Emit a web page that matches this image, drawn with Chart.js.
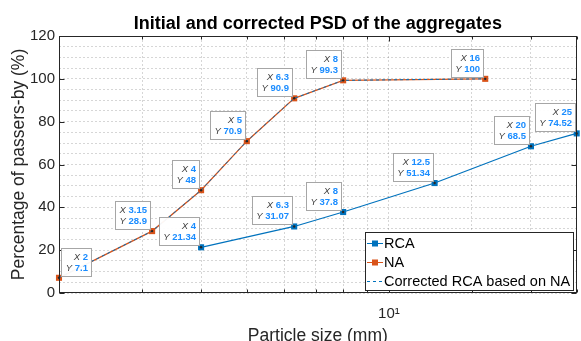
<!DOCTYPE html>
<html>
<head>
<meta charset="utf-8">
<script src="https://cdn.jsdelivr.net/npm/chart.js@4.4.1/dist/chart.umd.min.js"></script>
<style>
  html, body { margin: 0; padding: 0; background: #fff; }
  #wrap { width: 581px; height: 341px; position: relative; }
</style>
</head>
<body>
<div id="wrap"><canvas id="psdChart"></canvas></div>
<script>
// --- data ---
const rcaSize = [4, 6.3, 8, 12.5, 20, 25];
const rcaPass = [21.34, 31.07, 37.8, 51.34, 68.5, 74.52];
const naSize = [2, 3.15, 4, 5, 6.3, 8, 16];
const naPass = [7.1, 28.9, 48, 70.9, 90.9, 99.3, 100];
const corrSize = [2, 3.15, 4, 5, 6.3, 8, 16];
const corrPass = [7.1, 28.9, 48, 70.9, 90.9, 99.3, 100];
const yTickLabels = [0, 20, 40, 60, 80, 100, 120];
const xTickLabels = [10];

const FONT = "'Liberation Sans', Arial, Helvetica, sans-serif";
const AXIS = '#262626';
const BLUE = '#0072BD';
const ORANGE = '#D95319';
const TIP_BLUE = '#1A8CFF';

const toXY = (xs, ys) => xs.map((v, i) => ({ x: v, y: ys[i] }));

// box round the axes with inward ticks (MATLAB style)
const frame = {
    id: 'frame',
    afterDatasetsDraw(chart) {
        const { ctx, chartArea: a, scales: { x, y } } = chart;
        const L = Math.round(a.left) + 0.5, R = Math.round(a.right) - 0.5;
        const T = Math.round(a.top) + 0.5, B = Math.round(a.bottom) - 0.5;
        ctx.save();
        ctx.strokeStyle = AXIS;
        ctx.lineWidth = 1;
        ctx.beginPath();
        yTickLabels.forEach(v => {
            const py = Math.round(y.getPixelForValue(v)) + 0.5;
            ctx.moveTo(L, py); ctx.lineTo(L + 5, py);
            ctx.moveTo(R, py); ctx.lineTo(R - 5, py);
        });
        x.ticks.forEach(t => {
            const px = Math.round(x.getPixelForValue(t.value)) + 0.5;
            const len = xTickLabels.includes(t.value) ? 5 : 3;
            ctx.moveTo(px, B); ctx.lineTo(px, B - len);
            ctx.moveTo(px, T); ctx.lineTo(px, T + len);
        });
        ctx.stroke();
        ctx.strokeRect(L, T, R - L, B - T);
        ctx.restore();
    }
};

// data tips "X .. / Y .." next to every marker
const dataTips = {
    id: 'dataTips',
    afterDraw(chart) {
        const { ctx, chartArea: a, scales: { x, y } } = chart;
        const lblFont = 'italic 9.5px ' + FONT;
        const valFont = 'bold 9.5px ' + FONT;
        chart.data.datasets.forEach(ds => {
            if (!ds.tips) return;
            ds.data.forEach(p => {
                const px = x.getPixelForValue(p.x);
                const py = y.getPixelForValue(p.y);
                const lines = [['X ', String(p.x)], ['Y ', String(p.y)]];
                ctx.save();
                const widths = lines.map(([l, v]) => {
                    ctx.font = lblFont; const lw = ctx.measureText(l).width;
                    ctx.font = valFont; const vw = ctx.measureText(v).width;
                    return [lw, vw];
                });
                const w = Math.ceil(Math.max(...widths.map(q => q[0] + q[1]))) + 7;
                const h = 28;
                let bx = Math.round(px) - 2 - w;
                const by = Math.round(py) - 2 - h;
                if (bx < a.left) bx = Math.round(px) + 2;
                ctx.fillStyle = 'rgba(255,255,255,0.95)';
                ctx.fillRect(bx + 0.5, by + 0.5, w, h);
                ctx.strokeStyle = '#a6a6a6';
                ctx.lineWidth = 1;
                ctx.strokeRect(bx + 0.5, by + 0.5, w, h);
                ctx.textBaseline = 'middle';
                ctx.textAlign = 'left';
                lines.forEach(([l, v], i) => {
                    const ty = by + 9.5 + i * 11;
                    const rx = bx + w - 3;
                    ctx.font = valFont; ctx.fillStyle = TIP_BLUE;
                    ctx.fillText(v, rx - widths[i][1], ty);
                    ctx.font = lblFont; ctx.fillStyle = '#404040';
                    ctx.fillText(l, rx - widths[i][1] - widths[i][0], ty);
                });
                // small datatip dot on the marker
                ctx.fillStyle = '#262626';
                ctx.beginPath();
                ctx.arc(px, py, 1.2, 0, Math.PI * 2);
                ctx.fill();
                ctx.restore();
            });
        });
        drawLegend(chart);
    }
};

// legend box, bottom right inside the axes
function drawLegend(chart) {
    const { ctx, chartArea: a } = chart;
    const items = chart.data.datasets.map(ds => ({
        label: ds.label, color: ds.borderColor, dash: ds.borderDash || [], marker: ds.pointRadius > 0
    }));
    ctx.save();
    ctx.font = '14.5px ' + FONT;
    const tw = Math.max(...items.map(it => ctx.measureText(it.label).width));
    const rowH = 19;
    const w = Math.ceil(tw) + 21, h = items.length * rowH + 1;
    const R = Math.round(a.right) - 4, B = Math.round(a.bottom) - 3;
    const L = R - w, T = B - h;
    ctx.fillStyle = '#fff';
    ctx.fillRect(L + 0.5, T + 0.5, w, h);
    ctx.strokeStyle = AXIS;
    ctx.lineWidth = 1;
    ctx.strokeRect(L + 0.5, T + 0.5, w, h);
    items.forEach((it, i) => {
        const cy = T + 11 + i * rowH;
        ctx.strokeStyle = it.color;
        ctx.setLineDash(it.dash);
        ctx.beginPath();
        ctx.moveTo(L + 2, cy + 0.5); ctx.lineTo(L + 18, cy + 0.5);
        ctx.stroke();
        ctx.setLineDash([]);
        if (it.marker) {
            ctx.fillStyle = it.color;
            ctx.fillRect(L + 7, cy - 2.5, 6, 6);
        }
        ctx.fillStyle = '#000';
        ctx.textBaseline = 'middle';
        ctx.fillText(it.label, L + 19, cy + 1);
    });
    ctx.restore();
}

const ctx = document.getElementById('psdChart').getContext('2d');
new Chart(ctx, {
    type: 'line',
    data: {
        datasets: [
            {
                label: 'RCA',
                data: toXY(rcaSize, rcaPass),
                borderColor: BLUE, backgroundColor: BLUE,
                borderWidth: 1.2, pointStyle: 'rect', pointRadius: 4.3,
                pointBorderWidth: 0, order: 2, tips: true, clip: false
            },
            {
                label: 'NA',
                data: toXY(naSize, naPass),
                borderColor: ORANGE, backgroundColor: ORANGE,
                borderWidth: 1.3, pointStyle: 'rect', pointRadius: 4.3,
                pointBorderWidth: 0, order: 1, tips: true, clip: false
            },
            {
                label: 'Corrected RCA based on NA',
                data: toXY(corrSize, corrPass),
                borderColor: BLUE, backgroundColor: BLUE,
                borderWidth: 1, borderDash: [3, 3], pointRadius: 0,
                order: 0, clip: false
            }
        ]
    },
    options: {
        responsive: true,
        maintainAspectRatio: false,
        animation: false,
        layout: { padding: { left: 0, right: 2, top: 0, bottom: 0 } },
        plugins: {
            legend: { display: false },
            tooltip: { enabled: false },
            title: {
                display: true,
                text: 'Initial and corrected PSD of the aggregates',
                fullSize: false,
                color: '#000',
                font: { family: FONT, size: 18, weight: 'bold', lineHeight: 1 },
                padding: { top: 15, bottom: 3 }
            }
        },
        scales: {
            x: {
                type: 'logarithmic',
                min: 2, max: 25,
                afterFit: s => { s.height = 48; s.paddingLeft = 0; s.paddingRight = 0; },
                grid: { color: 'rgba(0,0,0,0.16)', drawTicks: false },
                border: { display: false, dash: [2, 2] },
                ticks: {
                    autoSkip: false, maxRotation: 0, padding: 12,
                    color: AXIS, font: { family: FONT, size: 15 },
                    callback: v => xTickLabels.includes(v) ? '10¹' : ''
                },
                title: {
                    display: true, text: 'Particle size (mm)', color: AXIS,
                    font: { family: FONT, size: 17.5, lineHeight: 1 },
                    padding: { top: 0, bottom: -4 }
                }
            },
            y: {
                min: 0, max: 120,
                afterFit: s => { s.width = 59; s.paddingTop = 0; s.paddingBottom = 0; },
                grid: { color: 'rgba(0,0,0,0.16)', drawTicks: false },
                border: { display: false, dash: [2, 2] },
                ticks: {
                    stepSize: 5, autoSkip: false, padding: 4,
                    color: AXIS, font: { family: FONT, size: 15 },
                    callback: v => yTickLabels.includes(v) ? v : ''
                },
                title: {
                    display: true, text: 'Percentage of passers-by (%)', color: AXIS,
                    font: { family: FONT, size: 17.5, lineHeight: 1.2 },
                    padding: { top: 9, bottom: 0 }
                }
            }
        }
    },
    plugins: [frame, dataTips]
});
</script>
</body>
</html>
